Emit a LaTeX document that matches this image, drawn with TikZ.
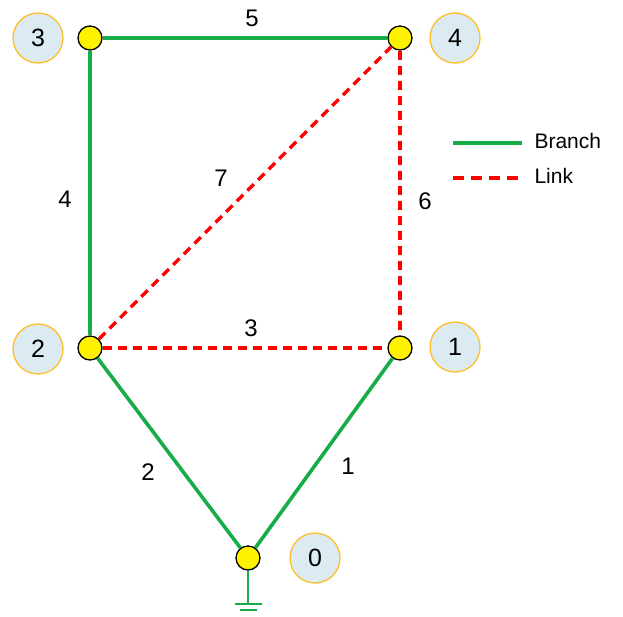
\documentclass[tikz,border=0pt]{standalone}
\usepackage{fontspec}
\setmainfont{Liberation Sans}
\definecolor{branchgreen}{RGB}{22,172,72}
\definecolor{linkred}{RGB}{255,0,0}
\definecolor{tagblue}{RGB}{220,234,242}
\definecolor{tagorange}{RGB}{255,190,40}
\begin{document}
\begin{tikzpicture}[x=1pt,y=-1pt,
  junction/.style={circle,draw=black,fill=yellow,line width=1.3pt,minimum size=24pt,inner sep=0pt},
  tag/.style={circle,draw=tagorange,fill=tagblue,line width=1.3pt,minimum size=50pt,inner sep=0pt,font=\fontsize{25}{25}\selectfont},
  branch/.style={line width=3.6pt,branchgreen},
  link/.style={line width=3.2pt,linkred,dash pattern=on 9pt off 6pt},
  num/.style={font=\fontsize{24}{24}\selectfont,black}]
  \useasboundingbox (0,0) rectangle (623,616);
  %% Junctions
  \node[junction] (n3) at (90,38) {};
  \node[junction] (n4) at (400,38) {};
  \node[junction] (n2) at (90,348) {};
  \node[junction] (n1) at (400,348) {};
  \node[junction] (n0) at (248,558) {};
  %% Junction tags
  \node[tag] (t3) at (38,38) {3};
  \node[tag] (t4) at (455,38) {4};
  \node[tag] (t2) at (38,349) {2};
  \node[tag] (t1) at (455,347) {1};
  \node[tag] (t0) at (315,558) {0};
  %% Tree branches
  \draw[branch] (n3) -- (n4) node[num,midway,xshift=7pt,yshift=20pt] {5};
  \draw[branch] (n3) -- (n2) node[num,midway,xshift=-25pt,yshift=-6pt] {4};
  \draw[branch] (n2) -- (n0) node[num,midway,xshift=-21pt,yshift=-19pt] {2};
  \draw[branch] (n1) -- (n0) node[num,midway,xshift=24pt,yshift=-13pt] {1};
  %% Links
  \draw[link] (n2) -- (n4) node[num,midway,xshift=-24pt,yshift=15pt] {7};
  \draw[link] (n4) -- (n1) node[num,midway,xshift=25pt,yshift=-8pt] {6};
  \draw[link] (n2) -- (n1) node[num,midway,xshift=6pt,yshift=20pt] {3};
  %% Ground
  \coordinate (gnd) at (248,604);
  \draw[branchgreen,line width=2pt] (n0) -- (gnd);
  \draw[branchgreen,line width=2.2pt] (235,604) -- (262,604);
  \draw[branchgreen,line width=2.2pt] (240,610) -- (257,610);
  %% Legend
  \coordinate (bA) at (453,143);
  \coordinate (bB) at (522,143);
  \coordinate (lA) at (453,178);
  \coordinate (lB) at (522,178);
  \draw[branch] (bA) -- (bB);
  \draw[link,dash pattern=on 11pt off 7pt] (lA) -- (lB);
  \node[num,anchor=west,font=\fontsize{21}{21}\selectfont] (legB) at (531,141) {Branch};
  \node[num,anchor=west,font=\fontsize{21}{21}\selectfont] (legL) at (531,176) {Link};
\end{tikzpicture}
\end{document}
